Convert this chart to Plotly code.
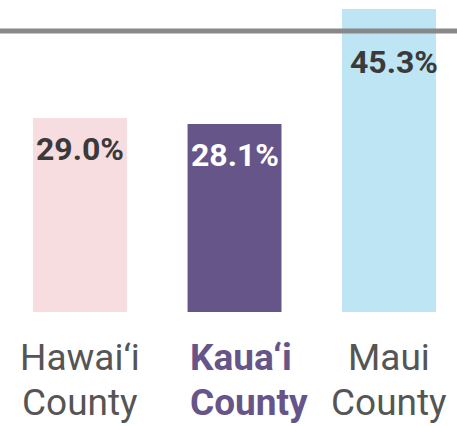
import plotly.graph_objects as go

counties = ["Hawai‘i County", "Kaua‘i County", "Maui County"]
label_line1 = ["Hawai‘i", "Kaua‘i", "Maui"]
label_line2 = ["County", "County", "County"]
values = [29.0, 28.1, 45.3]
value_labels = ["29.0%", "28.1%", "45.3%"]
reference_value = 42.0

# styles
bar_colors = ["#F7DDE0", "#665589", "#BDE5F3"]
value_label_colors = ["#3A3A3A", "#FFFFFF", "#3A3A3A"]
value_label_yshift = [-10, -10, -32]
value_label_xshift = [0, 0, 5]
axis_label_colors = ["#555555", "#665589", "#555555"]
axis_label_bold = [False, True, False]
axis_label_align = ["center", "left", "center"]
bar_width = 0.608

fig = go.Figure()
fig.add_trace(go.Bar(
    x=list(range(len(counties))),
    y=values,
    marker=dict(color=bar_colors, line=dict(width=0)),
    width=bar_width,
    hoverinfo="skip",
))

for i, (v, t) in enumerate(zip(values, value_labels)):
    fig.add_annotation(
        x=i, y=v, xref="x", yref="y",
        text=f"<b>{t}</b>", showarrow=False,
        yanchor="top", xanchor="center",
        yshift=value_label_yshift[i], xshift=value_label_xshift[i],
        font=dict(family="Roboto", size=32, color=value_label_colors[i]),
    )

for i in range(len(counties)):
    if axis_label_align[i] == "left":
        xpos, xanchor = i - bar_width / 2, "left"
    else:
        xpos, xanchor = i, "center"
    for line_text, ys in ((label_line1[i], -22), (label_line2[i], -67)):
        txt = f"<b>{line_text}</b>" if axis_label_bold[i] else line_text
        fig.add_annotation(
            x=xpos, y=0, xref="x", yref="paper",
            text=txt, showarrow=False,
            xanchor=xanchor, yanchor="top", yshift=ys,
            font=dict(family="Roboto", size=37, color=axis_label_colors[i]),
        )

fig.add_shape(
    type="line", xref="paper", x0=0, x1=1, yref="y",
    y0=reference_value, y1=reference_value,
    line=dict(color="#888888", width=5), layer="above",
)

fig.update_layout(
    width=457, height=426,
    margin=dict(l=0, r=0, t=0, b=114),
    paper_bgcolor="white", plot_bgcolor="white",
    showlegend=False,
    font=dict(family="Roboto"),
    xaxis=dict(
        range=[-0.518, 2.440],
        showticklabels=False,
        showgrid=False, zeroline=False, showline=False, ticks="",
    ),
    yaxis=dict(
        range=[0, 46.64], visible=False, showgrid=False, zeroline=False,
    ),
)

fig.write_html(
    "out.html",
    config={"displayModeBar": False},
    post_script="document.body.style.margin='0px';",
)
